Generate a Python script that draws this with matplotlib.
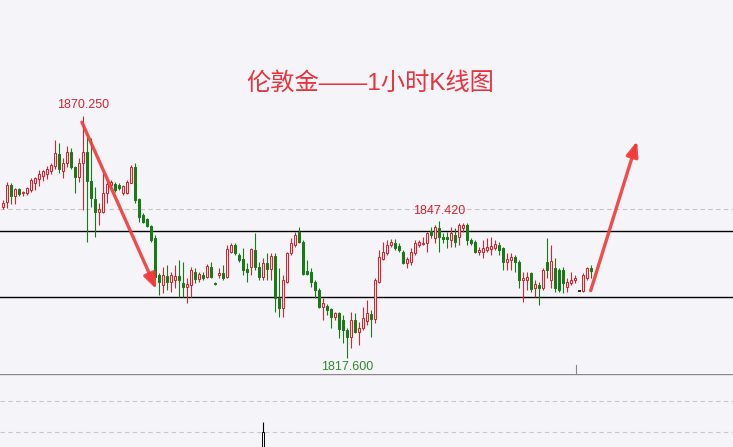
import matplotlib.pyplot as plt

plt.rcParams["font.family"] = ["Noto Sans CJK SC", "DejaVu Sans"]

# 伦敦金 1小时K线
opens = [
    1850.54, 1851.62, 1855.25, 1852.86, 1854.38, 1853.45, 1853.58, 1854.17, 1855.75, 1856.49,
    1857.27, 1857.64, 1858.36, 1859.38, 1861.99, 1858.36, 1860.10, 1862.49, 1859.10, 1857.06,
    1859.97, 1862.49, 1856.19, 1852.14, 1849.45, 1849.45, 1853.45, 1855.25, 1855.47, 1855.25,
    1853.45, 1853.58, 1855.75, 1859.23, 1852.14, 1848.73, 1847.80, 1846.34, 1843.67, 1835.69,
    1833.51, 1835.47, 1834.23, 1834.60, 1835.47, 1834.01, 1833.14, 1833.51, 1836.40, 1834.75,
    1835.69, 1835.32, 1837.49, 1834.01, 1835.69, 1836.06, 1835.32, 1840.75, 1842.21, 1840.04,
    1839.10, 1836.93, 1837.49, 1841.12, 1837.49, 1835.32, 1838.23, 1836.93, 1839.82, 1830.62,
    1828.45, 1834.23, 1840.40, 1842.21, 1845.10, 1842.93, 1836.62, 1836.40, 1834.23, 1832.43,
    1828.80, 1828.95, 1828.23, 1826.62, 1827.49, 1825.90, 1823.73, 1822.27, 1825.90, 1823.36,
    1824.10, 1825.75, 1827.21, 1826.06, 1834.23, 1839.10, 1840.40, 1842.21, 1842.58, 1841.99,
    1840.75, 1838.36, 1838.58, 1840.54, 1842.21, 1842.43, 1842.58, 1845.32, 1843.67, 1845.84,
    1844.01, 1844.01, 1843.30, 1844.38, 1844.01, 1845.84, 1846.56, 1843.30, 1842.93, 1840.75,
    1840.75, 1841.12, 1841.34, 1841.62, 1842.21, 1841.62, 1838.45, 1838.95, 1839.67, 1838.45,
    1834.60, 1834.60, 1836.06, 1832.93, 1833.51, 1832.93, 1838.58, 1834.60, 1837.14, 1836.77,
    1836.77, 1833.14, 1833.88, 1834.60, 1832.30, 1832.27, 1835.10, 1837.14,
]
highs = [
    1851.99, 1855.97, 1855.75, 1854.67, 1854.67, 1853.95, 1854.88, 1856.71, 1857.06, 1858.51,
    1858.51, 1859.38, 1859.97, 1865.04, 1864.32, 1861.06, 1863.73, 1863.23, 1859.38, 1861.06,
    1870.25, 1865.75, 1865.40, 1854.88, 1851.27, 1857.80, 1855.97, 1856.34, 1855.97, 1855.69,
    1855.32, 1856.34, 1859.60, 1859.97, 1852.36, 1849.10, 1848.08, 1846.56, 1844.38, 1836.06,
    1837.49, 1837.86, 1836.40, 1837.86, 1838.95, 1838.58, 1834.97, 1837.49, 1837.14, 1836.40,
    1836.40, 1838.08, 1838.58, 1834.17, 1837.14, 1837.86, 1842.21, 1842.58, 1842.58, 1840.40,
    1841.49, 1838.23, 1841.49, 1844.75, 1838.58, 1839.32, 1840.40, 1840.40, 1840.40, 1837.14,
    1835.69, 1840.75, 1843.67, 1845.10, 1846.20, 1843.30, 1838.95, 1837.14, 1834.60, 1832.80,
    1830.62, 1829.38, 1828.45, 1827.71, 1827.71, 1826.99, 1824.10, 1827.71, 1827.36, 1825.54,
    1828.80, 1830.25, 1828.08, 1834.97, 1841.12, 1842.93, 1843.30, 1843.45, 1843.45, 1842.58,
    1841.12, 1839.67, 1841.49, 1843.30, 1843.30, 1844.01, 1845.10, 1846.19, 1846.56, 1847.42,
    1844.75, 1845.10, 1846.19, 1845.84, 1846.93, 1846.93, 1846.93, 1843.67, 1843.30, 1841.84,
    1843.30, 1843.67, 1844.01, 1843.30, 1842.93, 1841.84, 1840.40, 1840.40, 1840.04, 1838.95,
    1836.40, 1836.40, 1836.40, 1834.60, 1834.23, 1837.14, 1843.67, 1842.21, 1839.32, 1837.14,
    1837.49, 1834.97, 1836.40, 1835.69, 1832.35, 1836.06, 1837.49, 1837.86,
]
lows = [
    1850.10, 1850.25, 1851.06, 1851.06, 1852.86, 1852.86, 1853.08, 1853.80, 1854.17, 1855.04,
    1856.12, 1856.49, 1857.58, 1858.67, 1857.80, 1856.84, 1859.23, 1858.67, 1853.45, 1855.97,
    1849.82, 1842.93, 1850.54, 1844.01, 1846.56, 1849.10, 1851.27, 1854.54, 1853.80, 1854.17,
    1853.14, 1853.30, 1855.62, 1851.27, 1847.27, 1846.93, 1846.05, 1842.93, 1834.60, 1831.34,
    1831.71, 1832.43, 1832.06, 1832.80, 1830.97, 1830.97, 1829.54, 1830.97, 1833.88, 1834.23,
    1834.60, 1834.97, 1834.97, 1833.51, 1834.97, 1834.60, 1834.97, 1840.40, 1840.04, 1838.58,
    1835.69, 1834.23, 1835.69, 1836.77, 1834.60, 1834.60, 1834.60, 1834.60, 1827.71, 1826.62,
    1826.62, 1833.88, 1840.04, 1841.84, 1842.58, 1835.69, 1835.69, 1833.14, 1830.62, 1828.45,
    1825.90, 1826.99, 1824.10, 1825.90, 1821.93, 1820.84, 1817.60, 1819.75, 1823.01, 1820.47,
    1823.73, 1824.82, 1822.14, 1825.32, 1833.88, 1838.95, 1840.04, 1841.84, 1841.12, 1840.75,
    1838.08, 1837.14, 1837.86, 1840.04, 1841.84, 1842.21, 1840.75, 1843.67, 1842.58, 1840.75,
    1842.58, 1841.49, 1841.84, 1841.84, 1842.21, 1845.10, 1842.21, 1842.21, 1840.54, 1840.04,
    1839.32, 1840.75, 1840.04, 1841.12, 1840.04, 1836.77, 1836.77, 1836.77, 1836.40, 1832.80,
    1829.75, 1832.43, 1832.06, 1830.97, 1829.17, 1832.43, 1834.97, 1832.80, 1832.06, 1832.06,
    1831.71, 1832.06, 1833.51, 1833.88, 1832.25, 1832.06, 1834.60, 1834.97,
]
closes = [
    1851.40, 1855.25, 1852.86, 1854.38, 1853.23, 1853.80, 1854.67, 1856.34, 1856.71, 1857.64,
    1858.36, 1858.67, 1859.60, 1862.27, 1858.67, 1860.10, 1862.49, 1859.10, 1857.06, 1860.10,
    1862.49, 1856.19, 1852.36, 1849.45, 1849.97, 1853.45, 1855.47, 1855.97, 1854.17, 1854.54,
    1855.04, 1855.97, 1859.23, 1851.99, 1848.36, 1847.27, 1846.34, 1843.30, 1835.32, 1834.23,
    1835.69, 1834.23, 1835.69, 1835.47, 1834.60, 1833.14, 1833.73, 1836.77, 1834.75, 1835.90,
    1834.97, 1837.64, 1835.32, 1833.67, 1836.19, 1834.97, 1841.27, 1842.21, 1840.40, 1838.95,
    1836.77, 1836.40, 1841.27, 1837.49, 1835.32, 1838.23, 1836.93, 1839.82, 1830.62, 1828.45,
    1834.60, 1840.40, 1842.58, 1844.38, 1842.93, 1835.90, 1835.90, 1834.23, 1832.43, 1828.80,
    1829.54, 1828.08, 1826.62, 1827.36, 1823.88, 1823.73, 1822.14, 1825.90, 1823.36, 1824.10,
    1826.27, 1827.36, 1826.06, 1834.60, 1839.67, 1840.75, 1842.21, 1842.93, 1841.49, 1841.12,
    1838.36, 1839.10, 1840.75, 1842.58, 1842.93, 1842.71, 1844.75, 1844.38, 1846.19, 1843.88,
    1843.45, 1843.45, 1844.75, 1842.93, 1846.56, 1846.56, 1843.30, 1842.71, 1840.75, 1841.12,
    1841.49, 1841.84, 1842.06, 1842.36, 1841.12, 1838.45, 1839.17, 1839.67, 1838.45, 1834.60,
    1835.10, 1835.32, 1832.64, 1833.67, 1832.80, 1836.77, 1836.77, 1838.73, 1832.80, 1832.43,
    1833.88, 1834.23, 1834.60, 1835.10, 1832.30, 1835.69, 1837.14, 1836.62,
]

resistance = 1845.25
support = 1830.90
grid_price = 1850.0

# 箭头 (K线序号, 价格)
arrow_down = [(19.8, 1868.9), (38.4, 1832.6)]
arrow_up = [(147.0, 1832.3), (158.6, 1864.8)]

up_color = "#d9232f"
down_color = "#1a7a1a"
bg = "#f5f5f9"
arrow_color = "#f03a3a"

fig = plt.figure(figsize=(7.33, 4.47), dpi=100, facecolor=bg)
ax = fig.add_axes([0, 73 / 447, 1, 374 / 447])
low_ax = fig.add_axes([0, 0, 1, 73 / 447])

for a in (ax, low_ax):
    a.set_xlim(-0.675, 182.575)
    a.axis("off")
ax.set_ylim(1814.17, 1895.47)
low_ax.set_ylim(0, 1)

# 蜡烛
for i in range(len(opens)):
    o, h, l, c = opens[i], highs[i], lows[i], closes[i]
    if c > o:
        color, face = up_color, bg
    elif c < o:
        color, face = down_color, down_color
    else:
        color, face = "#222222", "#222222"
    ax.vlines(i, l, h, color=color, linewidth=0.8, zorder=2)
    ax.bar(i, max(abs(c - o), 0.05), bottom=min(o, c), width=0.6,
           facecolor=face, edgecolor=color, linewidth=0.75, zorder=3)

ax.axhline(grid_price, color="#c4c4c4", linewidth=0.8, linestyle=(0, (4, 3)), zorder=1)
ax.axhline(resistance, color="black", linewidth=1.0, zorder=1)
ax.axhline(support, color="black", linewidth=1.0, zorder=1)
ax.axvline(143.25, ymin=0, ymax=9 / 374, color="#888888", linewidth=0.8)

# 高低点标注
hi = highs.index(max(highs))
lo = lows.index(min(lows))
hi2 = max(range(90, len(highs)), key=lambda k: highs[k])
for k, val, dy, col, va in [
    (hi, highs[hi], 5, up_color, "bottom"),
    (hi2, highs[hi2], 4, up_color, "bottom"),
    (lo, lows[lo], -3, "#2e8b2e", "top"),
]:
    ax.annotate(f"{val:.3f}", xy=(k, val), xytext=(0, dy), textcoords="offset pixels",
                ha="center", va=va, fontsize=9, color=col,
                family=["Liberation Sans", "DejaVu Sans"])

for start, end in (arrow_down, arrow_up):
    ax.annotate("", xy=end, xytext=start,
                arrowprops=dict(arrowstyle="-|>,head_length=0.75,head_width=0.3",
                                color=arrow_color, lw=2.4, shrinkA=0, shrinkB=0,
                                mutation_scale=12, alpha=0.9),
                zorder=6)

# 副图
low_ax.axhline(0.995, color="#8a8a8a", linewidth=1.0)
for yv in (0.63, 0.205):
    low_ax.axhline(yv, color="#c8c8c8", linewidth=0.8, linestyle=(0, (4, 3)))
low_ax.bar(65, 0.205, bottom=0, width=0.5, facecolor=bg, edgecolor="black", linewidth=0.7)
low_ax.vlines(65, 0.205, 0.342, color="black", linewidth=0.8)

fig.text(370 / 733, 1 - 83 / 447, "伦敦金——1小时K线图", color="#e8323c",
         fontsize=17.5, ha="center", va="center",
         family=["Liberation Sans", "Noto Sans CJK SC"])

fig.savefig("out.png", dpi=100, facecolor=bg)
